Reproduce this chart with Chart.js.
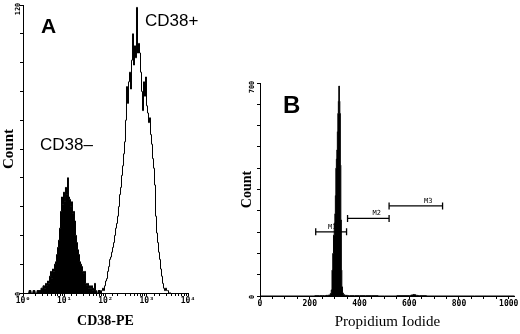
<!DOCTYPE html>
<html>
<head>
<meta charset="utf-8">
<script src="https://cdn.jsdelivr.net/npm/chart.js@4.4.0/dist/chart.umd.min.js"></script>
<style>
  body { margin: 0; background: #fff; }
  #wrap { position: relative; width: 520px; height: 334px; }
  #chartA { position: absolute; left: 0; top: 0; }
  #chartB { position: absolute; left: 240px; top: 0; }
</style>
</head>
<body>
<div id="wrap">
  <canvas id="chartA" width="200" height="334"></canvas>
  <canvas id="chartB" width="280" height="334"></canvas>
</div>
<script>
'use strict';

// panel A : CD38-PE histogram (log axis)
const cd38NegX = [1.32, 1.48, 1.65, 1.85, 2.07, 2.31, 2.58, 2.89,
  3.23, 3.42, 3.61, 3.82, 4.04, 4.27, 4.51, 4.77, 5.05, 5.34,
  5.64, 5.97, 6.31, 6.67, 7.06, 7.46, 7.89, 8.34, 8.82, 9.33,
  9.86, 10.4, 11.0, 11.7, 12.3, 13.0, 13.8, 14.6, 15.4, 16.3,
  17.2, 18.2, 19.3, 20.4, 21.5, 22.8, 24.1, 25.5, 26.9, 28.5,
  30.1, 31.9, 33.7, 35.6, 37.7, 39.8, 42.1, 44.5, 47.1, 49.8,
  52.6, 55.7, 58.8, 62.2, 69.6, 77.8];
const cd38NegCount = [0, 1, 0, 1, 0, 1, 1, 2,
  3, 2, 4, 3, 5, 4, 7, 9, 6, 10,
  9, 12, 13, 16, 19, 22, 27, 34, 40, 37,
  42, 38, 44, 41, 48, 40, 39, 36, 38, 33,
  34, 30, 24, 21, 18, 16, 13, 12, 11, 9,
  8, 9, 4, 3, 4, 2, 3, 2, 3, 1,
  2, 4, 1, 0, 1, 0];

const cd38PosX = [65.8,
  73.6, 77.8, 82.3, 87.0, 92.0, 97.2, 103, 109, 115, 122,
  129, 136, 144, 152, 161, 170, 180, 190, 201, 212,
  225, 238, 251, 266, 281, 297, 314, 332, 351, 371,
  393, 415, 439, 464, 491, 519, 549, 580, 614, 649,
  686, 726, 767, 811, 858, 907, 959, 1014, 1072, 1134,
  1199, 1268, 1341, 1418, 1499, 1585, 1676, 1772, 1874, 1982,
  2095, 2216, 2343, 2477, 2619, 2770, 2929, 3097, 3275, 3463,
  3872];
const cd38PosCount = [0,
  1, 0, 1, 2, 1, 3, 5, 6, 9, 11,
  14, 15, 17, 19, 21, 24, 27, 29, 32, 36,
  41, 44, 49, 53, 58, 63, 72, 86, 79, 88,
  92, 85, 97, 108, 95, 103, 98, 119, 100, 104,
  100, 92, 84, 76, 88, 82, 90, 78, 75, 71,
  73, 66, 62, 56, 52, 45, 32, 25, 21, 17,
  14, 10, 7, 4, 2, 1, 2, 1, 1, 0,
  0];

const aTickLabels = ['10⁰', '10¹', '10²', '10³', '10⁴'];
const aYLabels = [0, 120];

// panel B : propidium iodide histogram (linear, 1024 channels)
const piX = [0, 200, 240, 260, 270, 280, 285, 288, 291, 294,
  297, 300, 302, 304, 306, 308, 310, 312, 314, 316,
  318, 320, 322, 324, 326, 328, 330, 333, 337, 345,
  360, 400, 450, 500, 600, 612, 618, 624, 630, 640,
  700, 1024];
const piCount = [0, 0, 1, 1, 2, 3, 8, 20, 85, 140,
  200, 240, 270, 330, 420, 450, 480, 540, 600, 640,
  690, 640, 600, 430, 250, 85, 30, 10, 4, 2,
  1, 1, 1, 0, 1, 3, 5, 4, 2, 1,
  0, 0];

const markerNames = ['M1', 'M2', 'M3'];
const markerStart = [224, 352, 519];
const markerEnd = [348, 519, 734];
const markerLevel = [211, 255, 296];
const markerLabelX = [290, 469, 676];

const bTickLabels = [0, 200, 400, 600, 800, 1000];
const bYLabels = [0, 700];


function toPoints(xs, ys) {
  return xs.map(function(x, i) { return { x: x, y: ys[i] } })
}

// rotated y labels + free text notes
function notesPlugin(yLabels, yLabelOffset, notes) {
  function drawNotes(chart, under) {
    let ctx = chart.ctx
    let xs = chart.scales.x, ys = chart.scales.y
    ctx.save()
    ctx.fillStyle = '#000'
    notes.forEach(function(n) {
      if (!!n.under !== under) return
      ctx.font = n.font
      ctx.textAlign = n.align || 'left'
      ctx.textBaseline = n.baseline || 'middle'
      ctx.fillText(n.text, xs.getPixelForValue(n.x), ys.getPixelForValue(n.y) + (n.dy || 0))
    })
    ctx.restore()
  }
  return {
    id: 'notes',
    beforeDatasetsDraw(chart) { drawNotes(chart, true) },
    afterDraw(chart) {
      drawNotes(chart, false)
      let ctx = chart.ctx
      let ys = chart.scales.y
      ctx.save()
      ctx.fillStyle = '#000'
      ctx.font = 'bold 7px "DejaVu Sans Mono"'
      ctx.textAlign = 'center'
      ctx.textBaseline = 'middle'
      yLabels.forEach(function(v) {
        let y = ys.getPixelForValue(v) + (v === ys.max ? 4 : 1)
        ctx.translate(chart.chartArea.left + yLabelOffset, y)
        ctx.rotate(-Math.PI / 2)
        ctx.fillText(String(v), 0, 0)
        ctx.setTransform(1, 0, 0, 1, 0, 0)
      })
      ctx.restore()
    }
  }
}

function axisLook(tickLen) {
  return {
    grid: { display: true, drawOnChartArea: false, drawTicks: true, tickLength: tickLen, color: '#000', lineWidth: 1 },
    border: { display: true, color: '#000', width: 1 }
  }
}

function ChartA() {
  let context = document.querySelector('#chartA').getContext('2d')
  new Chart(context, {
    type: 'line',
    data: {
      datasets: [{
        label: 'CD38-',
        data: toPoints(cd38NegX, cd38NegCount),
        stepped: 'middle',
        fill: 'origin',
        borderColor: '#000',
        backgroundColor: '#000',
        borderWidth: 1,
        pointRadius: 0
      }, {
        label: 'CD38+',
        data: toPoints(cd38PosX, cd38PosCount),
        stepped: 'middle',
        fill: false,
        borderColor: '#000',
        borderWidth: 1,
        pointRadius: 0
      }]
    },
    options: {
      responsive: false,
      animation: false,
      devicePixelRatio: 1,
      layout: { padding: { top: 5, right: 12, left: 0, bottom: 0 } },
      plugins: { legend: { display: false }, tooltip: { enabled: false } },
      scales: {
        x: Object.assign(axisLook(3), {
          type: 'logarithmic',
          min: 1,
          max: 10000,
          afterFit: function(scale) { scale.height = 41 },
          ticks: {
            autoSkip: false,
            maxRotation: 0,
            padding: 0,
            color: '#000',
            font: { family: 'DejaVu Sans Mono', size: 8, weight: 'bold' },
            callback: function(value) {
              let e = Math.log10(value)
              if (Math.abs(e - Math.round(e)) < 1e-6) return aTickLabels[Math.round(e)]
              return ''
            }
          },
          title: {
            display: true,
            text: 'CD38-PE',
            color: '#000',
            font: { family: 'Liberation Serif', size: 14, weight: 'bold', lineHeight: 1 },
            padding: { top: 0, bottom: 6 }
          }
        }),
        y: Object.assign(axisLook(3), {
          min: 0,
          max: 120,
          afterFit: function(scale) { scale.width = 23 },
          ticks: { display: false, stepSize: 12 },
          title: {
            display: true,
            text: 'Count',
            color: '#000',
            font: { family: 'Liberation Serif', size: 15, weight: 'bold', lineHeight: 1 },
            padding: { top: 2, bottom: 0 }
          }
        })
      }
    },
    plugins: [notesPlugin(aYLabels, -5, [
      { text: 'A', x: 4.15, y: 110.6, font: 'bold 21px "Liberation Sans"', align: 'center' },
      { text: 'CD38+', x: 907, y: 113, font: '17px "Liberation Sans"' },
      { text: 'CD38–', x: 2.58, y: 61.7, font: '17px "Liberation Sans"' }
    ])]
  })
}

function ChartB() {
  let context = document.querySelector('#chartB').getContext('2d')
  let markerSets = markerNames.map(function(name, i) {
    return {
      label: name,
      data: [{ x: markerStart[i], y: markerLevel[i] }, { x: markerEnd[i], y: markerLevel[i] }],
      borderColor: '#000',
      borderWidth: 1.3,
      pointStyle: 'line',
      pointRotation: 90,
      pointRadius: 3.5,
      pointBorderWidth: 1.3,
      pointBorderColor: '#000',
      fill: false
    }
  })
  let notes = [{ text: 'B', x: 92, y: 624, font: 'bold 24px "Liberation Sans"' }]
  markerNames.forEach(function(name, i) {
    notes.push({ text: name, x: markerLabelX[i], y: markerLevel[i], dy: -1.5, baseline: 'bottom',
      align: 'center', font: '7px "DejaVu Sans Mono"', under: true })
  })
  new Chart(context, {
    type: 'line',
    data: {
      datasets: [{
        label: 'PI',
        data: toPoints(piX, piCount),
        stepped: 'middle',
        fill: 'origin',
        borderColor: '#000',
        backgroundColor: '#000',
        borderWidth: 1,
        pointRadius: 0
      }].concat(markerSets)
    },
    options: {
      responsive: false,
      animation: false,
      devicePixelRatio: 1,
      layout: { padding: { top: 83, right: 5, left: 0, bottom: 0 } },
      plugins: { legend: { display: false }, tooltip: { enabled: false } },
      scales: {
        x: Object.assign(axisLook(3), {
          type: 'linear',
          min: 0,
          max: 1024,
          afterFit: function(scale) { scale.height = 38 },
          ticks: {
            stepSize: 50,
            includeBounds: false,
            autoSkip: false,
            maxRotation: 0,
            padding: 0,
            color: '#000',
            font: { family: 'DejaVu Sans Mono', size: 8, weight: 'bold' },
            callback: function(value) {
              return bTickLabels.indexOf(value) >= 0 ? String(value) : ''
            }
          },
          title: {
            display: true,
            text: 'Propidium Iodide',
            color: '#000',
            font: { family: 'Liberation Serif', size: 15, lineHeight: 1 },
            padding: { top: 0, bottom: 4.5 }
          }
        }),
        y: Object.assign(axisLook(3), {
          min: 0,
          max: 700,
          afterFit: function(scale) { scale.width = 20 },
          ticks: { display: false, stepSize: 70 },
          title: {
            display: true,
            text: 'Count',
            color: '#000',
            font: { family: 'Liberation Serif', size: 14, weight: 'bold', lineHeight: 1 },
            padding: { top: 0, bottom: 0 }
          }
        })
      }
    },
    plugins: [notesPlugin(bYLabels, -8, notes)]
  })
}

ChartA()
ChartB()
</script>
</body>
</html>
